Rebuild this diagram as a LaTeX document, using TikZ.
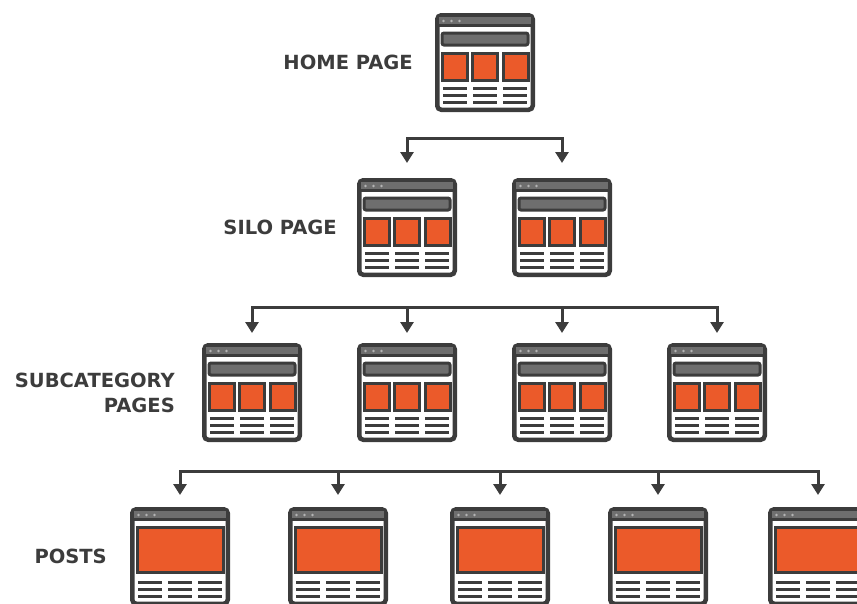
\documentclass[tikz,border=0pt]{standalone}
\usepackage{fontspec}
\setmainfont{DejaVu Sans}
\usetikzlibrary{arrows.meta,positioning}

\definecolor{inkgray}{HTML}{3C3C3C}
\definecolor{bargray}{HTML}{6E6E6E}
\definecolor{dotgray}{HTML}{B5B5B5}
\definecolor{pageorange}{HTML}{EB5A2A}

% browser window frame: title bar, dots, text lines (origin = north west of page)
\newcommand{\pagechrome}{%
  \fill[bargray] (4,4) rectangle (96,12.5);
  \draw[inkgray, line width=3pt] (2,12.5) -- (98,12.5);
  \foreach \dx in {8.5,16.5,24.5}
    \fill[dotgray] (\dx,8) circle (1.4pt);
  \foreach \ly in {75,82,89}
    \foreach \lx in {8,38,68}
      \draw[inkgray, line width=3pt] (\lx,\ly) -- ++(24,0);
}
\newcommand{\siteinner}{%
  \pagechrome
  \draw[inkgray, fill=bargray, line width=3pt, rounded corners=2pt] (7,20) rectangle (93,32);
  \foreach \sx in {7,37.5,68}
    \draw[inkgray, fill=pageorange, line width=3pt] (\sx,40) rectangle ++(25,27);
}
\newcommand{\postinner}{%
  \pagechrome
  \draw[inkgray, fill=pageorange, line width=3pt] (7,20) rectangle (93,65);
}

\tikzset{
  pagebox/.style={draw=inkgray, fill=white, line width=4.5pt, rounded corners=4pt,
    minimum width=95.5pt, minimum height=94.5pt, inner sep=0pt},
  levellabel/.style={text=inkgray, font=\fontsize{19.5}{25}\selectfont\bfseries,
    align=right, inner sep=0pt},
  rail/.style={draw=inkgray, line width=3pt, line cap=rect},
  drop/.style={draw=inkgray, line width=3pt,
    -{Triangle[width=13pt,length=11pt]}}
}

\begin{document}
\begin{tikzpicture}[x=1pt, y=-1pt]
    \path[use as bounding box, clip] (0,0) rectangle (857,603);

    % pages
    \node[pagebox] (home) at (485,62.5) {};

    \node[pagebox] (silo1) at (407,227.5) {};
    \node[pagebox] (silo2) at (562,227.5) {};

    \node[pagebox] (sub1) at (252,392.5) {};
    \node[pagebox] (sub2) at (407,392.5) {};
    \node[pagebox] (sub3) at (562,392.5) {};
    \node[pagebox] (sub4) at (717,392.5) {};

    \node[pagebox] (post1) at (180,556.5) {};
    \node[pagebox] (post2) at (338,556.5) {};
    \node[pagebox] (post3) at (500,556.5) {};
    \node[pagebox] (post4) at (658,556.5) {};
    \node[pagebox] (post5) at (818,556.5) {};

    % page contents
    \foreach \n in {home,silo1,silo2,sub1,sub2,sub3,sub4} {
        \begin{scope}[shift={(\n.north west)}]
            \siteinner
        \end{scope}
    }
    \foreach \n in {post1,post2,post3,post4,post5} {
        \begin{scope}[shift={(\n.north west)}]
            \postinner
        \end{scope}
    }

    % labels
    \node[levellabel, left=22pt of home] (homelabel) {HOME PAGE};
    \node[levellabel, left=20pt of silo1] (silolabel) {SILO PAGE};
    \node[levellabel, left=27pt of sub1] (sublabel) {SUBCATEGORY\\PAGES};
    \node[levellabel, left=23pt of post1] (postlabel) {POSTS};

    % connectors
    \coordinate (fork1) at (485,138);
    \coordinate (fork2) at (485,307);
    \coordinate (fork3) at (485,471);

    \draw[rail] (fork1 -| silo1) -- (fork1 -| silo2);
    \foreach \n in {silo1,silo2}
        \draw[drop, shorten >=15pt] (fork1 -| \n) -- (\n.north);

    \draw[rail] (fork2 -| sub1) -- (fork2 -| sub4);
    \foreach \n in {sub1,sub2,sub3,sub4}
        \draw[drop, shorten >=10pt] (fork2 -| \n) -- (\n.north);

    \draw[rail] (fork3 -| post1) -- (fork3 -| post5);
    \foreach \n in {post1,post2,post3,post4,post5}
        \draw[drop, shorten >=12pt] (fork3 -| \n) -- (\n.north);
\end{tikzpicture}
\end{document}
